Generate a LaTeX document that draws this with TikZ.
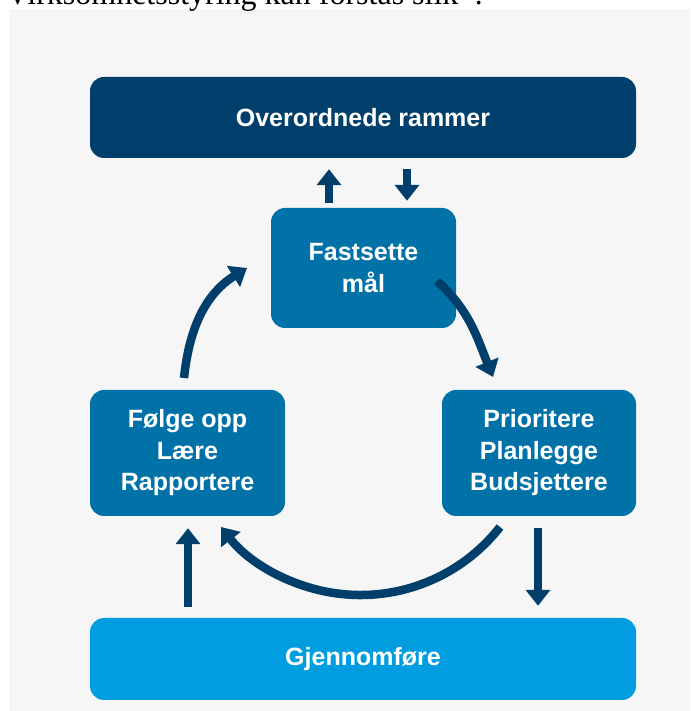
\documentclass[tikz,border=0pt]{standalone}
\usepackage{fontspec}
\setmainfont{Liberation Sans}
\newfontfamily\titleserif{Liberation Serif}
\usetikzlibrary{arrows.meta}
\definecolor{navy}{HTML}{003F6B}
\definecolor{midblue}{HTML}{0072A8}
\definecolor{lightblue}{HTML}{009EE0}
\definecolor{panelgray}{HTML}{F6F6F6}
\begin{document}
\begin{tikzpicture}[x=1pt,y=1pt,
  box/.style={rounded corners=14pt, text=white, inner sep=0pt, align=center,
    font=\bfseries\fontsize{25}{31.5}\selectfont},
  arr/.style={draw=navy, line width=8.5pt, -{Triangle[width=24pt,length=16pt]}}]
\useasboundingbox (0,0) rectangle (690,711);
\clip (0,0) rectangle (690,711);
\fill[white] (0,0) rectangle (690,711);
\fill[panelgray] (9,0) rectangle (690,702);
\node[anchor=base west, inner sep=0pt, font=\titleserif\fontsize{32}{40}\selectfont] (title) at (6,706) {Virksomhetsstyring kan forstås slik*:};

\node[box, fill=navy, minimum width=546pt, minimum height=81pt] (top) at (363,593.5) {Overordnede rammer};
\node[box, fill=midblue, minimum width=185pt, minimum height=120pt] (fast) at (363.5,443) {Fastsette\\mål};
\node[box, fill=midblue, minimum width=195pt, minimum height=126pt] (left) at (187.5,258) {Følge opp\\Lære\\Rapportere};
\node[box, fill=midblue, minimum width=194pt, minimum height=126pt] (right) at (539,258) {Prioritere\\Planlegge\\Budsjettere};
\node[box, fill=lightblue, minimum width=546pt, minimum height=82pt] (bottom) at (363,52) {Gjennomføre};

\coordinate (xa) at (329,0);
\coordinate (xb) at (407,0);
\coordinate (xc) at (188,0);
\coordinate (xd) at (538,0);
\draw[arr, shorten <=5pt, shorten >=11pt] (fast.north -| xa) -- (top.south -| xa);
\draw[arr, shorten <=11pt, shorten >=7pt] (top.south -| xb) -- (fast.north -| xb);
\draw[arr, shorten <=11pt, shorten >=12pt] (bottom.north -| xc) -- (left.south -| xc);
\draw[arr, shorten <=12pt, shorten >=12pt] (right.south -| xd) -- (bottom.north -| xd);

\coordinate (la) at (184,333);
\coordinate (lb) at (247,443);
\coordinate (ra) at (437,430);
\coordinate (rb) at (493,334);
\coordinate (ba) at (500,184);
\draw[arr] (la) to[out=84, in=212] (lb);
\draw[arr] (ra) to[out=-42, in=112] (rb);
\draw[arr] (ba) arc[start angle=-38, end angle=-142, radius=177];
\end{tikzpicture}
\end{document}
